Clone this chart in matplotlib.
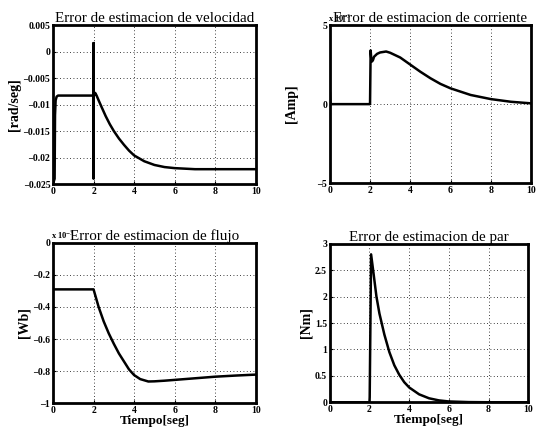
import matplotlib
matplotlib.use('Agg')
import matplotlib.pyplot as plt

plt.rcParams['font.family'] = ['Liberation Serif', 'DejaVu Serif']
plt.rcParams['mathtext.fontset'] = 'stix'

# velocity estimation error [rad/seg]
t_vel = [0, 0.08, 0.1, 0.13, 0.18, 0.25, 1.0, 1.99, 2.0, 2.0, 2.0, 2.02, 2.08, 2.15, 2.25, 2.4,
         2.6, 2.8, 3.0, 3.25, 3.5, 3.75, 4.0, 4.5, 5.0, 5.5, 6.0, 7.0, 8.0, 10.0]
e_vel = [-0.025, -0.024, -0.012, -0.0092, -0.0085, -0.0083, -0.0083, -0.0083, -0.024, 0.0016,
         -0.0084, -0.0082, -0.0078, -0.0083, -0.0092, -0.0105, -0.0122, -0.0137, -0.0150,
         -0.0164, -0.0176, -0.0187, -0.0196, -0.0207, -0.0214, -0.0218, -0.0220, -0.0222,
         -0.0222, -0.0222]

# current estimation error [Amp] (x 10^-3)
t_cur = [0, 0.0, 0.03, 1.99, 2.0, 2.03, 2.06, 2.1, 2.15, 2.2, 2.35, 2.5, 2.8, 3.0, 3.5, 4.0,
         4.5, 5.0, 5.5, 6.0, 7.0, 8.0, 9.0, 10.0]
e_cur = [0, 0.8, 0, 0, 0, 3.4, 2.9, 2.7, 2.8, 3.0, 3.18, 3.27, 3.33, 3.25, 2.95, 2.5,
         2.05, 1.64, 1.28, 1.0, 0.58, 0.32, 0.15, 0.05]

# flux estimation error [Wb] (x 10^-3)
t_flx = [0, 1.0, 2.0, 2.25, 2.5, 2.75, 3.0, 3.25, 3.5, 3.75, 4.0, 4.3, 4.7, 5.0, 5.5, 6.0, 7.0,
         8.0, 9.0, 10.0]
e_flx = [-0.29, -0.29, -0.29, -0.40, -0.49, -0.565, -0.63, -0.69, -0.74, -0.79, -0.825, -0.85,
         -0.865, -0.864, -0.86, -0.855, -0.845, -0.835, -0.828, -0.822]

# torque estimation error [Nm]
t_par = [0, 1.0, 2.0, 2.01, 2.08, 2.2, 2.35, 2.5, 2.75, 3.0, 3.25, 3.5, 3.75, 4.0, 4.5, 5.0,
         5.5, 6.0, 7.0, 8.0, 10.0]
e_par = [0, 0, 0, 0.1, 2.8, 2.45, 2.0, 1.68, 1.28, 0.95, 0.70, 0.52, 0.38, 0.28, 0.15, 0.075,
         0.035, 0.015, 0.003, 0.0, 0.0]

titles = ['Error de estimacion de velocidad', 'Error de estimacion de corriente',
          'Error de estimacion de flujo', 'Error de estimacion de par']
ylabels = ['[rad/seg]', '[Amp]', '[Wb]', '[Nm]']
xticks = [0, 2, 4, 6, 8, 10]
yticks = [[0.005, 0, -0.005, -0.01, -0.015, -0.02, -0.025],
          [5, 0, -5],
          [0, -0.2, -0.4, -0.6, -0.8, -1],
          [3, 2.5, 2, 1.5, 1, 0.5, 0]]
ytlabels = [['0.005', '0', '\u20130.005', '\u20130.01', '\u20130.015', '\u20130.02', '\u20130.025'],
            ['5', '0', '\u20135'],
            ['0', '\u20130.2', '\u20130.4', '\u20130.6', '\u20130.8', '\u20131'],
            ['3', '2.5', '2', '1.5', '1', '0.5', '0']]
ylims = [(-0.025, 0.005), (-5, 5), (-1, 0), (0, 3)]
series = [(t_vel, e_vel), (t_cur, e_cur), (t_flx, e_flx), (t_par, e_par)]

fig = plt.figure(figsize=(5.38, 4.33), dpi=100)
pos = [[0.0985, 0.575, 0.377, 0.367], [0.613, 0.577, 0.374, 0.365],
       [0.0985, 0.069, 0.377, 0.370], [0.613, 0.071, 0.369, 0.366]]

for i in range(4):
    ax = fig.add_axes(pos[i])
    t, e = series[i]
    ax.plot(t, e, color='black', linewidth=1.8, solid_joinstyle='round')
    ax.set_xlim(0, 10)
    ax.set_ylim(*ylims[i])
    ax.set_xticks(xticks)
    ax.set_xticklabels([str(x) for x in xticks], fontweight='bold', fontsize=7)
    ax.set_yticks(yticks[i])
    ax.set_yticklabels(ytlabels[i], fontweight='bold', fontsize=7)
    ax.tick_params(direction='in', length=2.5, width=0.8, pad=2)
    ax.grid(True, color='black', linestyle=(0, (1, 3)), linewidth=0.6)
    for s in ax.spines.values():
        s.set_linewidth(2)
    ax.set_title(titles[i], fontsize=10.8, pad=2)
    ax.set_ylabel(ylabels[i], fontweight='bold', fontsize=10, labelpad=2 if i != 1 else 14)
    if i >= 2:
        ax.set_xlabel('Tiempo[seg]', fontweight='bold', fontsize=9.5, labelpad=0)
    if i in (1, 2):
        ax.text(-0.01, 1.01, r'x 10$^{-3}$', transform=ax.transAxes, fontsize=6,
                fontweight='bold', ha='left', va='bottom')

fig.savefig('out.png', dpi=100)
